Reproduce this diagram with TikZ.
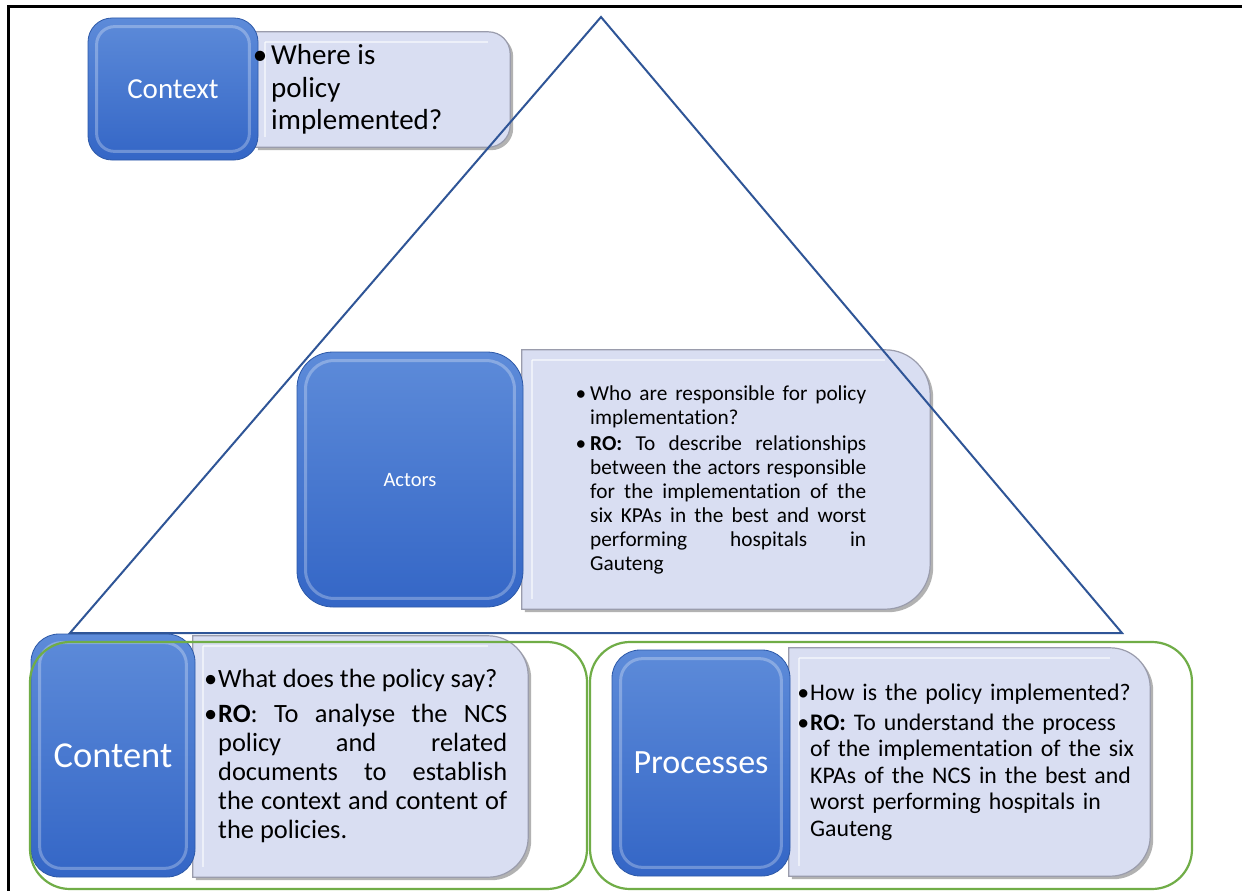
\documentclass[tikz,border=0pt]{standalone}
\usepackage{fontspec}
\setmainfont{Carlito}[Ligatures=NoCommon]
\definecolor{blueTop}{HTML}{5D8BD9}
\definecolor{blueBot}{HTML}{3466C6}
\definecolor{blueEdge}{HTML}{2D59A8}
\definecolor{lightFill}{HTML}{D9DEF2}
\definecolor{lightEdge}{HTML}{9A9CAC}
\definecolor{triBlue}{HTML}{2F5597}
\definecolor{grn}{HTML}{70AD47}
\newcommand\lbox[2]{%
 \fill[black!30] ([shift={(3pt,-3pt)}]#1.north west) -- ([shift={(3pt,-3pt)},xshift=-#2pt]#1.north east) arc[start angle=-90,end angle=0,radius=#2] -- ([shift={(3pt,-3pt)},yshift=#2pt]#1.south east) arc[start angle=0,end angle=90,radius=#2] -- ([shift={(3pt,-3pt)}]#1.south west) -- cycle;
 \filldraw[lightshape] (#1.north west) -- ([xshift=-#2pt]#1.north east) arc[start angle=-90,end angle=0,radius=#2] -- ([yshift=#2pt]#1.south east) arc[start angle=0,end angle=90,radius=#2] -- (#1.south west) -- cycle;
 \draw[white,opacity=.55,line width=2pt] ([shift={(10pt,-10pt)}]#1.north west) -- ([shift={(-#2pt,-10pt)}]#1.north east);
 \draw[white,opacity=.55,line width=2pt] ([shift={(10pt,-10pt)}]#1.north west) -- ([shift={(10pt,10pt)}]#1.south west);
}
\newcommand\bbevel[2]{%
 \draw[white,opacity=.28,line width=3pt,rounded corners=#2pt] ([shift={(9pt,-9pt)}]#1.north west) rectangle ([shift={(-9pt,9pt)}]#1.south east);
}
\newcommand\bul[1]{\leavevmode\llap{•\hspace{#1}}}
\begin{document}
\begin{tikzpicture}[x=1pt,y=-1pt,
  bluebox/.style={rectangle,draw=blueEdge,line width=0.8pt,top color=blueTop,bottom color=blueBot,text=white,inner sep=0pt},
  lightnode/.style={rectangle,inner sep=0pt},
  lightshape/.style={fill=lightFill,draw=lightEdge,line width=1.2pt},
  txt/.style={anchor=west,inner sep=0pt,text=black},
  grp/.style={draw=grn,line width=2.2pt,rounded corners=40pt},
  tri/.style={draw=triBlue,line width=2pt,line join=miter}]
\useasboundingbox (0,0) rectangle (1242,891);
\fill[white] (0,0) rectangle (1242,891);
\draw[black,line width=3pt] (8,891) -- (8,7) -- (1242,7);

% Context
\node[lightnode,minimum width=255pt,minimum height=115pt] (ctxL) at (382.5,89.5) {};
\lbox{ctxL}{22}
\node[bluebox,rounded corners=24pt,minimum width=170pt,minimum height=142pt,font=\fontsize{29}{32}\selectfont] (ctx) at (173,89) {Context};
\bbevel{ctx}{18}
\node[txt,align=left,font=\fontsize{29}{32.5}\selectfont] (ctxT) at (271,89.5) {\bul{4pt}Where is\\policy\\implemented?};

% Actors
\node[lightnode,minimum width=408pt,minimum height=259pt] (actL) at (726,479.5) {};
\lbox{actL}{45}
\node[bluebox,rounded corners=36pt,minimum width=226pt,minimum height=255pt,font=\fontsize{20.5}{24}\selectfont] (act) at (410,479.5) {Actors};
\bbevel{act}{28}
\node[txt,text width=276pt,align=justify,font=\fontsize{21.3}{24}\selectfont] (actT) at (590,480) {\bul{4pt}Who are responsible for policy\linebreak implementation?\par\vspace{2pt}\bul{4pt}\textbf{RO:} To describe relationships\linebreak between the actors responsible\linebreak for the implementation of the\linebreak six KPAs in the best and worst\linebreak performing hospitals in\linebreak Gauteng};

% Content
\node[lightnode,minimum width=335pt,minimum height=241pt] (cntL) at (360.5,756.5) {};
\lbox{cntL}{40}
\node[bluebox,rounded corners=28pt,minimum width=164pt,minimum height=243pt,font=\fontsize{36.5}{40}\selectfont] (cnt) at (113,755.5) {Content};
\bbevel{cnt}{22}
\node[txt,text width=289pt,align=justify,font=\fontsize{26.4}{29}\selectfont] (cntT) at (218,756) {\bul{1pt}What does the policy say?\par\vspace{6pt}\bul{1pt}\textbf{RO}: To analyse the NCS\linebreak policy and related\linebreak documents to establish\linebreak the context and content of\linebreak the policies.};

% Processes
\node[lightnode,minimum width=361pt,minimum height=228pt] (prcL) at (969.5,762) {};
\lbox{prcL}{40}
\node[bluebox,rounded corners=28pt,minimum width=178pt,minimum height=226pt,font=\fontsize{34}{38}\selectfont] (prc) at (701,763) {Processes};
\bbevel{prc}{22}
\node[txt,text width=330pt,align=left,font=\fontsize{23.8}{26.5}\selectfont] (prcT) at (810,762) {\bul{1pt}How is the policy implemented?\par\vspace{3.5pt}\bul{1pt}\textbf{RO:} To understand the process\\of the implementation of the six\\KPAs of the NCS in the best and\\worst performing hospitals in\\Gauteng};

% triangle
\draw[tri] (601,17) -- (1122,633) -- (70,633) -- cycle;

% green groups
\draw[grp] (30,642) rectangle (587,889);
\draw[grp] (590,642) rectangle (1192,889);
\end{tikzpicture}
\end{document}
